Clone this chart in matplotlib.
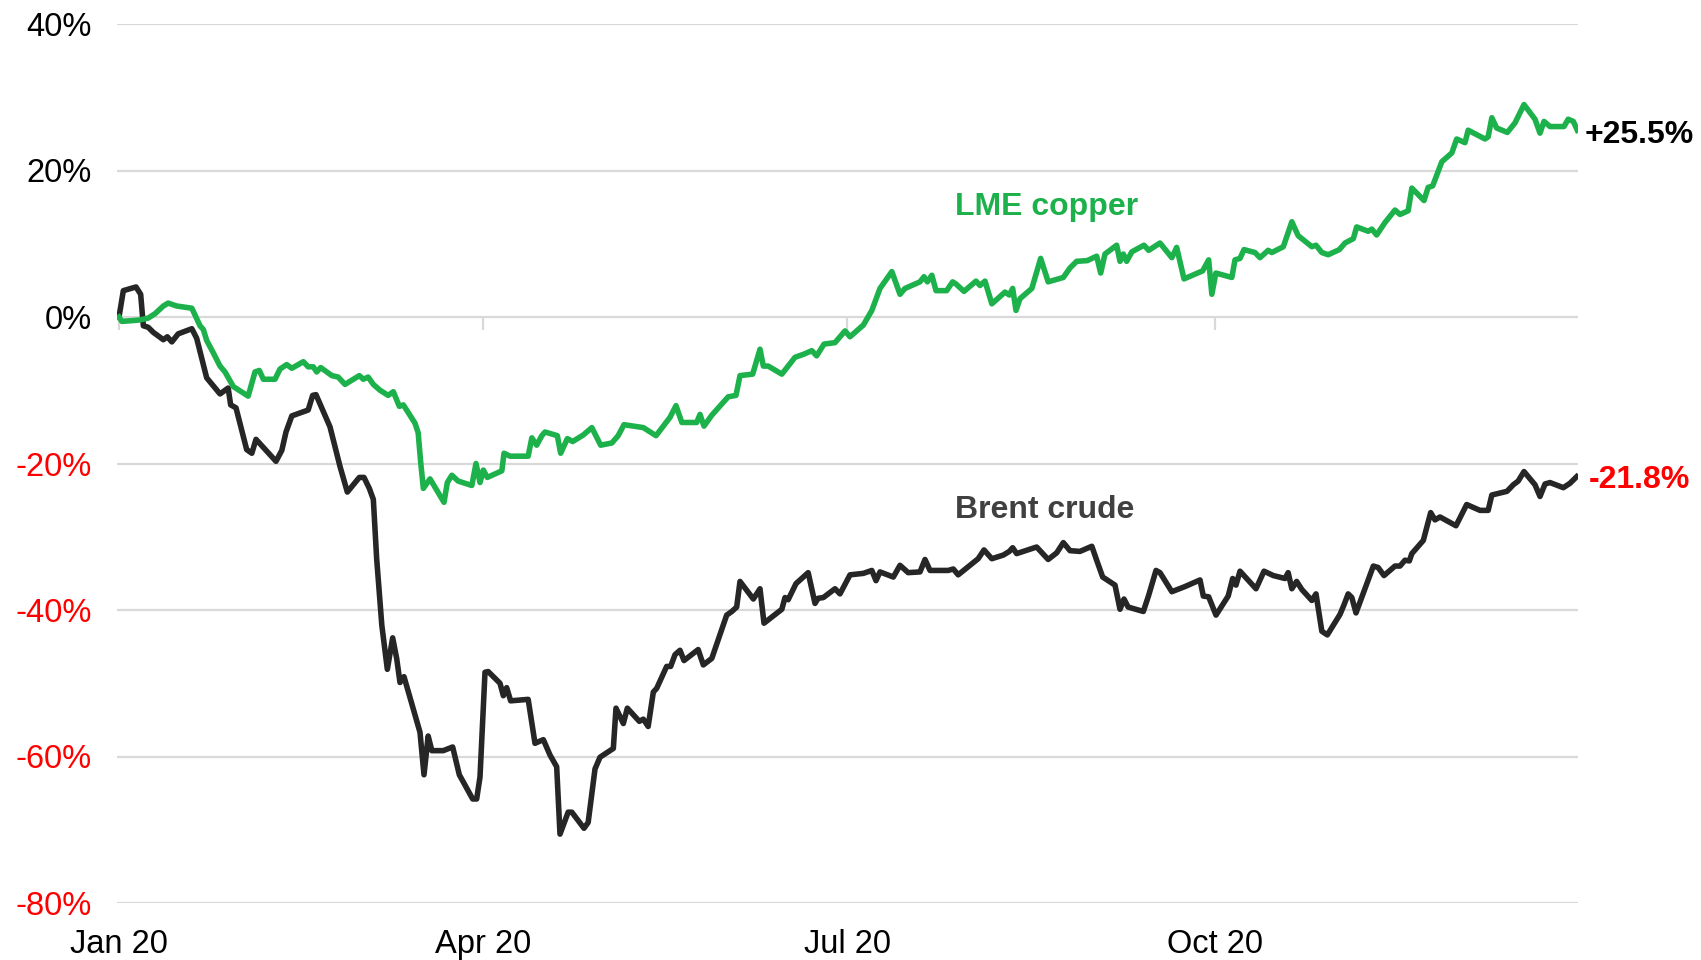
import numpy as np
import matplotlib
matplotlib.use("Agg")
import matplotlib.pyplot as plt

plt.rcParams['font.family'] = ['Liberation Sans', 'DejaVu Sans']

# days since 1 Jan 2020, % change since start of year
brent_days = [0, 1.1, 4.25, 5.4, 6.1, 7.3, 8.6, 11.1, 12.1, 13.2, 14.8, 18.2, 19.4, 21.9, 25.25,
              27.3, 27.9, 29.25, 31.9, 33.2, 34.25, 39.25, 40.7, 41.75, 43.2, 47.3, 48.4, 49.25,
              52.75, 55.25, 57.1, 60.1, 61.25, 62.6, 63.6, 64.4, 65.7, 67.1, 68.4, 69.4, 70.25,
              71.25, 75.25, 76.25, 77.3, 78.2, 81.1, 83.4, 85.1, 88.4, 89.4, 90.25,
              91.5, 92.3, 95.25, 96.1, 96.9, 97.9, 102.3, 104, 106.1, 107.75, 109.4, 110.25,
              112.3, 113.2, 116.25, 117.3, 119, 120.25, 123.6, 124.25, 126.1, 127.1, 130.1,
              131.1, 132.3, 133.6, 134.4, 136.9, 137.9, 139, 140.25, 141.25, 144.8, 146.1,
              148.2, 151.9, 153.2, 154.4, 155.25, 158.6, 160.25, 161.25, 165.7, 166.5, 167.3,
              169.25, 172.3, 174, 174.8, 176.1, 179, 180.25,
              182.75, 186.1, 188.2, 189.25, 190.25, 193.6, 195.25, 197.3, 200.25, 201.5, 202.75,
              207.3, 208.6, 209.8, 214.8, 216.25, 218.2, 221.1, 222.6, 223.4, 224.4, 229.4,
              232.3, 234.4, 236.1, 237.75, 240.25, 243.2, 244.4, 245.9, 249, 250.25, 251.25,
              252.3, 256.1, 257.4, 259.25, 260.25, 263.2, 266.5, 270.25, 271.1, 272.4, 274.25,
              277.3, 278.4, 279.25, 280.25, 284.25, 286.25, 288.6, 291.5, 292.3, 293.2, 294.4,
              295.7, 298.2, 299.25, 300.7, 302.1, 305.25, 306.25, 307.3, 308.2, 309.25, 313.6,
              314.8, 316.25, 319, 320.25, 321.5, 322.6, 323.2, 326.1, 327.9, 329, 330.25,
              334.25, 336.9, 340.25, 342.3, 343.2, 347, 348.6, 349.8, 351.25, 354, 355.25,
              356.5, 357.75, 361.1, 362.75, 364.4]
brent_pct = [0, 3.6, 4.1, 3.1, -1.2, -1.4, -2.1, -3.1, -2.7, -3.4, -2.3, -1.6, -2.9, -8.3, -10.5,
             -9.7, -12.0, -12.4, -18.1, -18.6, -16.7, -19.7, -18.2, -15.7, -13.5, -12.7, -10.7, -10.6,
             -15.0, -20.4, -23.9, -21.9, -21.9, -23.4, -24.9, -33.0, -42.1, -48.1, -43.8, -46.6, -49.9,
             -49.1, -56.7, -62.5, -57.2, -59.2, -59.2, -58.7, -62.5, -65.8, -65.8, -62.8,
             -48.5, -48.4, -50.0, -51.7, -50.6, -52.4, -52.2, -58.2, -57.7, -59.8, -61.4, -70.6,
             -67.6, -67.6, -69.8, -69.0, -61.7, -60.1, -58.9, -53.4, -55.5, -53.4, -55.2,
             -54.9, -55.9, -51.2, -50.7, -47.7, -47.7, -46.1, -45.5, -46.9, -45.4, -47.5,
             -46.6, -40.7, -40.2, -39.6, -36.1, -38.5, -37.1, -41.8, -39.9, -38.3, -38.6,
             -36.4, -34.9, -39.1, -38.4, -38.3, -37.1, -37.8,
             -35.2, -35.0, -34.6, -36.0, -34.8, -35.5, -33.9, -34.9, -34.8, -33.1, -34.6,
             -34.6, -34.4, -35.2, -33.0, -31.8, -33.0, -32.5, -32.0, -31.5, -32.3, -31.4,
             -33.1, -32.2, -30.8, -31.9, -32.0, -31.3, -33.2, -35.5, -36.6, -39.9, -38.5,
             -39.6, -40.2, -38.0, -34.6, -34.9, -37.5, -36.8, -35.9, -38.1, -38.2, -40.7,
             -38.1, -35.7, -36.6, -34.7, -37.1, -34.7, -35.3, -35.7, -34.9, -37.1, -36.1,
             -37.2, -38.7, -37.8, -42.9, -43.4, -40.6, -39.3, -37.8, -38.3, -40.4, -34.0,
             -34.2, -35.3, -34.0, -34.0, -33.2, -33.3, -32.3, -30.5, -26.7, -27.7, -27.3,
             -28.5, -25.6, -26.4, -26.4, -24.3, -23.8, -22.9, -22.4, -21.1, -22.9, -24.5,
             -22.8, -22.6, -23.3, -22.7, -21.8]

copper_days = [0, 0.7, 3.2, 5.25, 7.3, 9, 11.1, 12.3, 14.4, 18.2, 20.25, 21.1, 21.9, 23.6, 25.25,
               26.5, 28.6, 32.3, 34, 35.1, 36.1, 39, 40.25, 41.9, 43.2, 46.1, 47.3, 48.6, 49.4,
               50.4, 53.2, 54.8, 56.5, 60.1, 61.1, 62.3, 63.6, 65.25, 67.3, 68.6, 70.1, 71.1,
               74, 74.8, 75.4, 76.1, 77.75, 81.25, 82.1, 83.2, 84.8, 88.2, 89.25, 90.25, 91.1, 92.1,
               95.7, 96.25, 97.75, 102.3, 103.2, 104.4, 105.7, 106.5, 109.6, 110.4, 112.1, 113.4,
               116.1, 118.2, 120.4, 123.2, 124.8, 126.25, 131.1, 134.25, 137.75, 139.25, 140.7,
               144.4, 145.25, 146.25, 148.2, 152.3, 154.25, 155.25, 158.4, 160.25, 161.1, 162.3,
               165.7, 169, 171.1, 173.2, 174.4, 176.25, 179, 181.5,
               182.75, 186.1, 188.2, 190.25, 193.2, 195.25, 196.5, 200.25, 201.25, 202.1, 203.2,
               204.25, 206.9, 208.4, 209.25, 211.25, 214.25, 215.25, 216.5, 218.2, 221.5, 222.6,
               223.4, 224.25, 225.25, 228.2, 230.4, 232.3, 236.1, 237.75, 239.4, 242.1, 244.4,
               245.4, 246.5, 249.4, 250.25, 251.1, 251.9, 253.2, 256.25, 257.4, 260.25, 263.2,
               264.4, 266.25, 270.9, 272.4, 273.2, 274.2,
               278.2, 279, 280.25, 281.25, 284, 285.25, 287.3, 288.2, 291.1, 293.2, 294.8, 298.2,
               299.25, 300.7, 302.3, 305.1, 306.5, 308.6, 309.4, 312.3, 313.2, 314.4, 316.5, 319,
               320.25, 322.3, 323.2, 326.25, 327.3, 328.4, 330.7, 333.2, 334.4, 336.5, 337.3,
               341.5, 342.3, 343.2, 344.4, 347.1, 349, 351.25, 354, 355.25, 356.25, 357.75,
               361.25, 362.3, 363.6, 364.6]
copper_pct = [0, -0.6, -0.5, -0.4, -0.15, 0.45, 1.5, 1.9, 1.5, 1.2, -1.2, -1.7, -3.2, -4.9, -6.7,
              -7.5, -9.5, -10.8, -7.5, -7.3, -8.5, -8.5, -7.1, -6.5, -7.0, -6.1, -6.8, -6.8, -7.5,
              -6.9, -8.0, -8.2, -9.2, -8.0, -8.5, -8.2, -9.2, -10.0, -10.7, -10.2, -12.2, -12.0,
              -14.5, -15.8, -19.8, -23.4, -22.1, -25.3, -22.6, -21.6, -22.4, -23.0, -20.0, -22.6, -20.9, -21.9,
              -21.0, -18.6, -19.0, -19.0, -16.5, -17.5, -16.2, -15.7, -16.2, -18.6, -16.6, -17.0,
              -16.1, -15.1, -17.5, -17.2, -16.2, -14.7, -15.1, -16.2, -13.7, -12.1, -14.4,
              -14.4, -13.3, -14.9, -13.4, -10.9, -10.7, -8.0, -7.8, -4.4, -6.7, -6.7,
              -7.8, -5.5, -5.1, -4.6, -5.3, -3.7, -3.5, -1.9,
              -2.7, -1.1, 0.9, 3.9, 6.2, 3.1, 3.9, 4.8, 5.5, 4.8, 5.7,
              3.6, 3.6, 4.8, 4.5, 3.5, 4.9, 4.3, 4.9, 1.8, 3.4, 3.0,
              3.9, 0.9, 2.5, 3.9, 8.0, 4.8, 5.4, 6.7, 7.6, 7.7, 8.3,
              6.0, 8.6, 9.8, 7.6, 8.6, 7.6, 8.9, 9.8, 9.1, 10.1, 8.1,
              9.5, 5.2, 6.3, 7.8, 3.1, 6.0,
              5.4, 7.8, 8.0, 9.2, 8.8, 8.1, 9.1, 8.8, 9.6, 13.0, 11.1, 9.6,
              9.8, 8.8, 8.5, 9.2, 10.1, 10.7, 12.3, 11.7, 12.0, 11.2, 12.9, 14.6,
              14.0, 14.5, 17.6, 15.9, 17.7, 17.9, 21.2, 22.4, 24.3, 23.8, 25.5,
              24.3, 24.6, 27.2, 25.8, 25.2, 26.5, 29.0, 27.0, 25.1, 26.7, 26.0,
              26.0, 27.0, 26.7, 25.5]

y_ticks = [-80, -60, -40, -20, 0, 20, 40]
x_tick_dates = ['2020-01-01', '2020-04-01', '2020-07-01', '2020-10-01']
x_tick_labels = ['Jan 20', 'Apr 20', 'Jul 20', 'Oct 20']

GREEN = '#1db14c'
DARK = '#262626'
GRID = '#d9d9d9'
RED = '#ff0000'

start = np.datetime64('2020-01-01T00')


def to_dates(days):
    return start + np.round(np.array(days) * 24).astype('timedelta64[h]')


brent_x = to_dates(brent_days)
copper_x = to_dates(copper_days)

fig = plt.figure(figsize=(17.01, 9.6), dpi=100)
ax = fig.add_axes([117 / 1701, 57 / 960, 1461 / 1701, 879 / 960])

ax.plot(brent_x, brent_pct, color=DARK, lw=4.0, solid_joinstyle='round', zorder=3)
ax.plot(copper_x, copper_pct, color=GREEN, lw=4.0, solid_joinstyle='round', zorder=4)

ax.set_ylim(-80, 40)
ax.set_xlim(to_dates([-0.5])[0], to_dates([364.75])[0])

ax.set_yticks(y_ticks)
ax.set_yticklabels([f'{v}%' for v in y_ticks])
for lab, v in zip(ax.get_yticklabels(), y_ticks):
    lab.set_color(RED if v < 0 else 'black')
ax.yaxis.grid(True, color=GRID, lw=1.6)
ax.set_axisbelow(True)

tick_x = np.array(x_tick_dates, dtype='datetime64[h]')
ax.set_xticks(tick_x)
ax.set_xticklabels(x_tick_labels)
ax.tick_params(axis='both', length=0, labelsize=23.5)
ax.tick_params(axis='y', pad=18)
ax.tick_params(axis='x', pad=19)
for s in ax.spines.values():
    s.set_visible(False)

# small ticks hanging off the zero line
sec = ax.secondary_xaxis(80 / 120)
sec.set_xticks(tick_x)
sec.tick_params(length=9, width=1.6, color=GRID, direction='in', labeltop=False, labelbottom=False)
for s in sec.spines.values():
    s.set_visible(False)

ax.text(to_dates([232])[0], 15.0, 'LME copper', color=GREEN, fontsize=23, fontweight='bold',
        ha='center', va='center')
ax.text(to_dates([231.5])[0], -26.4, 'Brent crude', color='#404040', fontsize=23, fontweight='bold',
        ha='center', va='center')

ax.annotate(f'+{copper_pct[-1]:.1f}%', (copper_x[-1], copper_pct[-1]), xytext=(5, -3.5),
            textcoords='offset points', color='black', fontsize=23, fontweight='bold',
            va='center', ha='left', annotation_clip=False)
ax.annotate(f'{brent_pct[-1]:.1f}%', (brent_x[-1], brent_pct[-1]), xytext=(9, -2.5),
            textcoords='offset points', color=RED, fontsize=23, fontweight='bold',
            va='center', ha='left', annotation_clip=False)

fig.savefig('out.png', dpi=100)
